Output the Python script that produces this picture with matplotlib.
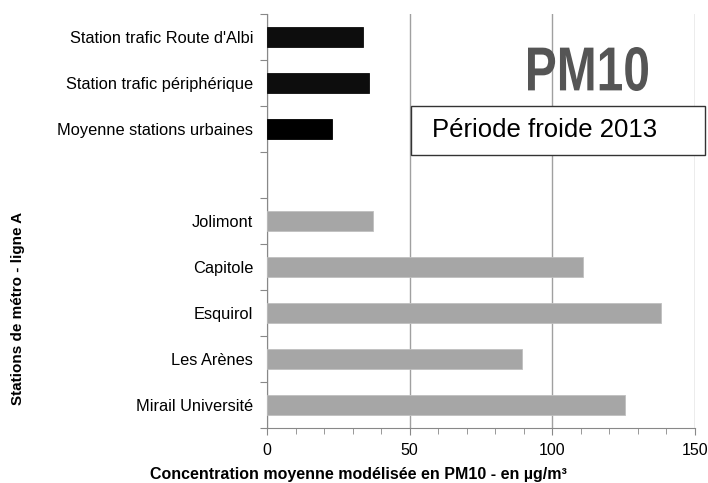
import matplotlib
matplotlib.use("Agg")
import matplotlib.pyplot as plt
from matplotlib.patches import Rectangle, PathPatch
from matplotlib.textpath import TextPath
from matplotlib.font_manager import FontProperties
from matplotlib.transforms import Affine2D, IdentityTransform
from matplotlib.ticker import MultipleLocator

plt.rcParams['font.family'] = ['Liberation Sans', 'DejaVu Sans']

# categories from top to bottom ("" = empty gap slot)
labels = ["Station trafic Route d'Albi", "Station trafic périphérique",
          "Moyenne stations urbaines", "",
          "Jolimont", "Capitole", "Esquirol", "Les Arènes", "Mirail Université"]
values = [33.6, 35.7, 22.8, 0, 37.0, 110.9, 138.1, 89.5, 125.5]
colors = ["#0d0d0d", "#0d0d0d", "#000000", "none",
          "#a6a6a6", "#a6a6a6", "#a6a6a6", "#a6a6a6", "#a6a6a6"]

W, H = 708, 483
fig = plt.figure(figsize=(W / 100, H / 100), dpi=100)
ax = fig.add_axes([267/W, 1 - 428/H, (695 - 267)/W, (428 - 14)/H])

n = len(labels)
pos = list(range(n))
for p, v, c in zip(pos, values, colors):
    if v > 0:
        ec = "#bfbfbf" if c == "#a6a6a6" else c
        ax.barh(p, v, height=0.42, color=c, edgecolor=ec, linewidth=0.6, zorder=3)

ax.set_xlim(0, 150)
ax.set_ylim(n - 0.5, -0.5)

# labels at centres, tick marks at category boundaries
ax.set_yticks([i - 0.5 for i in range(n + 1)])
ax.set_yticklabels([])
ax.set_yticks(pos, minor=True)
ax.set_yticklabels(labels, minor=True, fontsize=11.8)
ax.tick_params(axis='y', which='major', length=5, color='#888888', direction='out')
ax.tick_params(axis='y', which='minor', length=0, pad=10)

ax.set_xticks([0, 50, 100, 150])
ax.xaxis.set_minor_locator(MultipleLocator(10))
ax.tick_params(axis='x', which='major', length=5, color='#888888', labelsize=11.5, pad=6)
ax.tick_params(axis='x', which='minor', length=4, color='#888888')

ax.grid(axis='x', color='#a0a0a0', linewidth=1.0, zorder=0)
for s in ['top', 'right']:
    ax.spines[s].set_visible(False)
for s in ['left', 'bottom']:
    ax.spines[s].set_color('#888888')

fig.text(358/W, 1 - 474/H, "Concentration moyenne modélisée en PM10 - en µg/m³",
         ha='center', va='center', fontsize=11.5, fontweight='bold')
fig.text(18/W, 1 - 308/H, "Stations de métro - ligne A", rotation=90,
         ha='center', va='center', fontsize=11, fontweight='bold')

# PM10 logo: bold text squeezed into a condensed box (pixel coords)
tp = TextPath((0, 0), "PM10", size=50, prop=FontProperties(family='Liberation Sans', weight='bold'))
ext = tp.get_extents()
x0, x1, ytop, ybot = 528, 648, 47, 91
sx = (x1 - x0) / ext.width
sy = (ybot - ytop) / ext.height
tr = Affine2D().translate(-ext.x0, -ext.y0).scale(sx, sy).translate(x0, H - ybot)
fig.patches.append(PathPatch(tr.transform_path(tp), transform=IdentityTransform(),
                             facecolor='#555555', edgecolor='none', zorder=4))

# boxed caption
fig.patches.append(Rectangle((411/W, 1 - 155/H), 294/W, 49/H,
                             transform=fig.transFigure, facecolor='white',
                             edgecolor='#333333', linewidth=1.0, zorder=5))
fig.text(432/W, 1 - 130/H, "Période froide 2013", ha='left', va='center',
         fontsize=18.5, zorder=6)

fig.savefig("out.png", dpi=100)
